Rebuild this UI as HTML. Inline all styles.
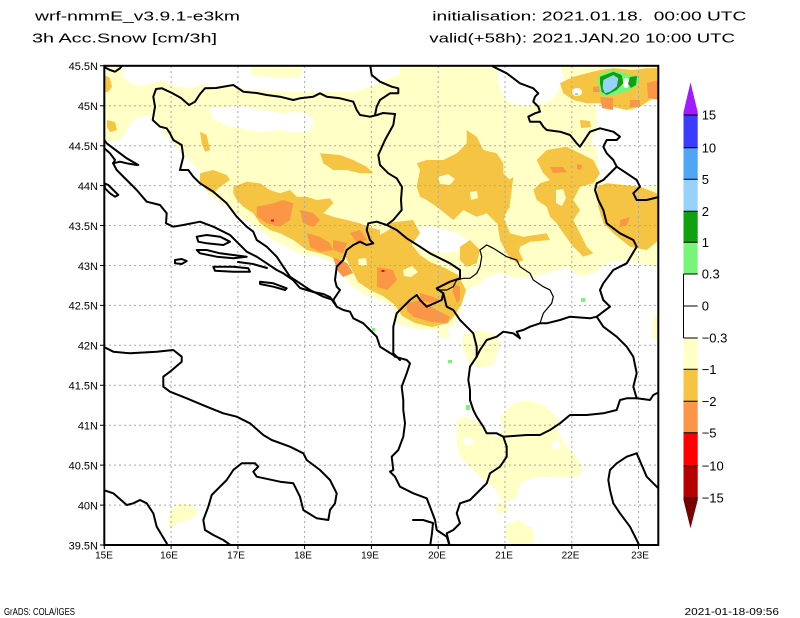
<!DOCTYPE html>
<html><head><meta charset="utf-8">
<style>
html,body{margin:0;padding:0;background:#fff;}
svg{display:block;}
text{font-family:"Liberation Sans",Arial,sans-serif;fill:#000;}
</style></head>
<body>
<svg width="800" height="618" viewBox="0 0 800 618" xmlns="http://www.w3.org/2000/svg">
<rect width="800" height="618" fill="#fff"/>
<defs><clipPath id="c"><rect x="104.3" y="65.8" width="554" height="479.2"/></clipPath></defs>
<g clip-path="url(#c)">
 <polygon fill="#ffffc6" points="104,66 658.5,66 658.5,267 637,263 623,260 607,263 593,273 580,277 567,267 547,273 533,277 513,277 500,273 487,277 480,283 467,290 463,300 460,313 453,327 440,330 427,330 407,327 397,323 393,307 380,300 363,294 350,285 343,272 333,262 317,256 300,254 287,247 273,240 260,230 240,217 227,207 207,193 200,170 192,163 183,155 175,145 165,135 158,122 150,115 135,118 128,128 120,140 104,142"/>
 <g fill="#fff">
  <polygon points="122,66 250,66 252,76 300,78 303,66 400,66 400,75 385,80 372,86 360,90 345,92 330,92 300,92 275,91 255,90 240,88 220,88 205,84 190,88 175,86 162,80 152,83 140,86 128,82 123,76"/>
  <polygon points="497,66 560,66 564,78 556,95 545,103 520,106 505,100 498,82"/>
  <polygon points="596,104 615,108 632,111 645,104 658.5,98 658.5,186 640,187 622,184 605,183 597,175 597,150 591,140 597,125"/>
  <polygon points="210,108 240,106 265,110 280,113 300,112 313,118 312,130 295,133 280,130 260,132 240,128 225,125 212,118"/>
  <polygon points="410,228 430,226 455,232 468,240 462,250 445,253 425,250 412,242"/>
 </g>
 <g fill="#ffffc6">
  <polygon points="456.7,420 466.7,416.7 480,423.3 486.7,433.3 496.7,436.7 503,430 500,416.7 513.3,403.3 526.7,400 543.3,405 556.7,416.7 557,427 560,436.7 566.7,446.7 576.7,456.7 583.3,470 576.7,476.7 556.7,476.7 536.7,476.7 520,483.3 516.7,496.7 503.3,503.3 496.7,490 480,476.7 470,466.7 460,456.7 456.7,443.3"/>
  <polygon points="506.7,523.3 520,520 533.3,530 533.3,546 510,546 505,535"/>
  <polygon points="496,503 507,503 508,512 497,513"/>
  <polygon points="170,510 180,503.3 193.3,505 196.7,513.3 190,520 176.7,523.3 170,530 168,520"/>
  <polygon points="653,317 659,313 659,342 652,338"/>
  <polygon points="463,334 480,330 497,335 500,345 493,365 480,368 467,360 462,345"/>
  <polygon points="437,327 447,327 450,337 440,338"/>
 </g>
 <g fill="#fff">
  <ellipse cx="468" cy="441" rx="5" ry="4"/>
  <ellipse cx="556" cy="445" rx="4" ry="5"/>
 </g>
 <g fill="#f5c443">
  <polygon points="233.3,186.7 246.7,181.7 260,183.3 270,190 280,193.3 290,190 296.7,196.7 306.7,196.7 316.7,200 330,198.3 333.3,203.3 323.3,213.3 333.3,216.7 346.7,220 360,223.3 366.7,226.7 380,230 380,246.7 366.7,250 353.3,246.7 346.7,256.7 340,260 330,256.7 320,253.3 306.7,250 293.3,240 280,233.3 270,230 260,223.3 253.3,213.3 243.3,206.7 236.7,200 233.3,193.3"/>
  <polygon points="200,173.3 213.3,170 226.7,175 230,180 220,186.7 213.3,193.3 206.7,190 200,183.3"/>
  <polygon points="200,131.7 206.7,135 210,150 205,151.7 201.7,143.3"/>
  <polygon points="320,153.3 340,155 353.3,160 366.7,166.7 373.3,173.3 360,173.3 346.7,170 333.3,170 323.3,163.3"/>
  <polygon points="104,75 110,78 112,87 108,92 104,92"/>
  <polygon points="107,120 115,122 117,130 110,132 107,127"/>
  <polygon points="345,245 360,237 378,236 392,228 402,233 412,245 420,255 430,262 445,268 458,275 466,290 462,303 455,315 448,323 432,327 415,323 402,316 395,305 383,296 370,290 358,282 352,270 346,258"/>
  <polygon points="387,223 413,220 420,233 410,247 397,240"/>
  <polygon points="466.7,130 476.7,136.7 483.3,150 496.7,153.3 503.3,163.3 503.3,173.3 510,180 503.3,193.3 510,206.7 503.3,216.7 496.7,223.3 486.7,213.3 476.7,216.7 463.3,210 453.3,220 436.7,206.7 426.7,200 420,196.7 416.7,186.7 420,170 416.7,163.3 426.7,160 443.3,160 456.7,153.3 466.7,143.3"/>
  <polygon points="503.3,216.7 510,233.3 523.3,236.7 546.7,233.3 550,240 530,241.7 520,246.7 516.7,260 510,260 506.7,246.7 500,236.7"/>
  <polygon points="460,246.7 470,240 480,250 476.7,263.3 466.7,266.7 460,260"/>
  <polygon points="536.7,160 546.7,150 566.7,146.7 580,153.3 593.3,160 600,173.3 593.3,183.3 580,186.7 573.3,200 580,210 573.3,220 580,233.3 586.7,246.7 593.3,253.3 583.3,256.7 573.3,246.7 563.3,233.3 556.7,223.3 550,216.7 546.7,206.7 536.7,200 533.3,190 540,183.3 550,180 543.3,173.3 540,166.7"/>
  <polygon points="500,186.7 513.3,176.7 510,203.3 503.3,220 506.7,233.3 516.7,246.7 523.3,260 516.7,263.3 506.7,253.3 500,240 496.7,220 493.3,206.7"/>
  <polygon points="596.7,186.7 606.7,183.3 623.3,185 640,186.7 656.7,193.3 659,200 659,240 646.7,250 630,246.7 613.3,233.3 603.3,223.3 598.3,206.7"/>
  <polygon points="560,83.3 573.3,76.7 586.7,73.3 600,70 613.3,68.3 633.3,70 646.7,68.3 659,68 659,93 650,100 640,106.7 626.7,110 613.3,106.7 600,103.3 586.7,103.3 573.3,100 563.3,93.3"/>
  <polygon points="580,120 590,121 591,127 581,128"/>
 </g>
 <g fill="#ffffc6">
  <polygon points="438,177 448,174 455,179 450,185 440,184"/>
  <polygon points="470,192 477,191 478,198 471,200"/>
  <polygon points="556,190 563,189 566,198 562,206 556,203"/>
  <polygon points="514,178 521,177 522,182 515,183"/>
  <polygon points="403,270 412,266 418,272 411,277 404,276"/>
  <polygon points="358,259 366,258 367,265 359,266"/>
 </g>
 <ellipse cx="577" cy="92" rx="5" ry="4" fill="#fff"/>
 <g fill="#fa9646">
  <polygon points="256.7,206.7 273.3,203.3 283.3,200 293.3,203.3 290,220 280,226.7 266.7,223.3 256.7,216.7"/>
  <polygon points="300,210 313,213 320,220 313,227 303,223"/>
  <polygon points="307,233 320,237 330,243 333,250 320,252 310,247"/>
  <polygon points="333,257 347,263 353,273 343,277 337,270"/>
  <polygon points="350,233 360,230 367,240 357,243"/>
  <polygon points="333,240 347,243 343,253 333,250"/>
  <polygon points="377,267 393,270 397,280 387,290 377,287"/>
  <polygon points="406.7,303.3 420,300 436.7,310 450,316.7 446.7,323.3 430,321.7 413.3,316.7 406.7,310"/>
  <polygon points="420,293 433,297 440,300 430,303 420,300"/>
  <polygon points="453,283 460,287 460,300 457,303 453,293"/>
  <polygon points="550,167 563,167 567,172 553,173"/>
  <polygon points="577,164 582,165 581,170 577,169"/>
  <polygon points="620,220 630,217 627,225 620,227"/>
  <polygon points="593,87 600,86 600,92 593,92"/>
  <polygon points="600,97 613,98 613,110 602,108"/>
  <polygon points="630,100 640,100 640,107 630,107"/>
  <polygon points="647,83 659,80 659,100 648,98"/>
 </g>
 <g fill="#ff0000">
  <rect x="271" y="219.5" width="3" height="2"/>
  <rect x="381.5" y="270" width="3" height="2"/>
 </g>
 <polygon fill="#78f578" points="598.3,75 610,70 620,71.7 630,75 640,75 638.3,83.3 633.3,88.3 626.7,91.7 620,93.3 613.3,95 605,96.7 600,93.3 598.3,85"/>
 <ellipse cx="626" cy="83" rx="3.5" ry="5" fill="#fff"/>
 <polygon fill="#10a010" points="600,76.7 613.3,71.7 621.7,75 623.3,83.3 616.7,90 606.7,95 601.7,91.7 600,83.3"/>
 <polygon fill="#10a010" points="630,77 637,76 636,85 631,88 628,84"/>
 <polygon fill="#96d2fa" points="603.3,80 613.3,75 618.3,78.3 616.7,86.7 610,91.7 605,93.3 602.7,88.3"/>
 <g fill="#78f578">
  <rect x="372" y="328" width="3" height="3"/>
  <rect x="448" y="360" width="4" height="3"/>
  <rect x="466" y="405" width="4" height="5"/>
  <rect x="581" y="298" width="4" height="4"/>
  <rect x="575" y="93" width="3" height="2"/>
 </g>
 <g stroke="#a8a8a8" stroke-width="1" stroke-dasharray="2,3" fill="none">
  <path d="M171.1,66V545M237.9,66V545M304.6,66V545M371.4,66V545M438.2,66V545M505,66V545M571.8,66V545M638.5,66V545"/>
  <path d="M104,105.7H658M104,145.7H658M104,185.6H658M104,225.5H658M104,265.5H658M104,305.4H658M104,345.3H658M104,385.3H658M104,425.2H658M104,465.1H658M104,505.1H658"/>
 </g>
 <g stroke="#000" stroke-width="2" fill="none" stroke-linejoin="round" stroke-linecap="round">
  <polyline points="395,114 383,113 377,115 370,116.7 360,115 356.7,110 353.3,101.7 340,98.3 326.7,96.7 320,93.3 313.3,96.7 300,98.3 293.3,100 280,96.7 266.7,95 256.7,93 243.3,91.7 233.3,85 216,88 205,88.3 200,94 195,101.7 189,105 181,98 172,93 162,88.3 156,89 153.3,96.7 155,106.7 152.7,120 160,126.7 166.7,128.3 170,133.3 173.3,140 181.7,145 183.3,156.7 180,170 188.3,170 193.3,176.7 200,183.3 213.3,191.7 226.7,203.3 236.7,216.7 246.7,226.7 253.3,231.7 256.7,240 266.7,246.7 276.7,256.7 283.3,266.7 290,276.7 300,283.3 310,290 323.3,296.7 333.3,300"/>
  <polyline points="395,114 393.3,125 385,140 378.3,155 380,165 388.3,173.3 396.7,178.3 402,187 401,200 401.7,210 393.3,220 386.7,225 376.7,221.7 368.3,223.3 366.7,230 370,240 373.3,243.3 366.7,245 360,241.7 353.3,245 346.7,250 343.3,260 336.7,266.7 335,280 336.7,286.7 340,290 333.3,300 336.7,306.7"/>
  <polyline points="386.7,225 396.7,230 406.7,238.3 420,246.7 430,253.3 440,258.3 450,263.3 460,270 460,278.3 450,281.7 440,286.7 436.7,288.3 443.3,293.3 441.7,300 426.7,306.7 420,300 416.7,295 410,300 403.3,306.7 396.7,313.3 393.3,326.7 393.3,340 393.3,353.3 400,360"/>
  <polyline points="113,163 116.7,170 126.7,180 136.7,190 146.7,201.7 160,205 166.7,213.3 166,223.3 173.3,226.7 183.3,225 200,221.7 213.3,226.7 230,235 236.7,241.7 246.7,251.7 256.7,256.7 266.7,263.3 276.7,270 283.3,273.3 293,280 300,288 313.3,292 323.3,294 330,297 336.7,306.7 343.3,310 350,311.7 353.3,318.3 363.3,323.3 370,330 376.7,336.7 380,346.7 393.3,355 395,356.7 406.7,360 410,363.3 406.7,373.3 401.7,386.7 403.3,400 403.3,410 405,423.3 403.3,436.7 398.3,450 391.7,456.7 393.3,470 390,471.7 395,476.7 400,486.7 413.3,493.3 426.7,498.3 430,506.7 435,520 436.7,530 446.7,536.7 450,547"/>
  <polyline points="104.3,140 106.7,143.3 113.3,148.3 120,153.3 126.7,158.3 138.3,165"/>
  <polyline points="104.3,148.3 110,153.3 115,160 113.3,163.3 120,161.7 126.7,163.3 136.7,165"/>
  <polygon points="104.3,183.3 108.3,185 113.3,190 118.3,195 115,196.7 110,193.3 105,188.3"/>
  <polygon points="196.7,236.7 206.7,235 220,236.7 230,241.7 223.3,245 206.7,243.3 198.3,241.7"/>
  <polygon points="196.7,250 206.7,250 220,253.3 233.3,255 246.7,256.7 233.3,258.3 216.7,256.7 200,253.3"/>
  <polygon points="175,260 181.7,259 186.7,261 181.7,264 175,263.3"/>
  <polygon points="213.3,266.7 233.3,266.7 248.3,268.3 250,271.7 233.3,271.7 215,270.7"/>
  <polygon points="260,281.7 273.3,283.3 286.7,288.3 285,290 273.3,286.7 260,284"/>
  <polyline points="238,262 253,264 267,268"/>
  <polyline points="103.3,346.7 113.3,351.7 130,353.3 156.7,351.7 173.3,350 181.7,356.7 181.7,361.7 170,371.7 163.3,376.7 163.3,386.7 170,391.7 186.7,398.3 206.7,406.7 223.3,413.3 236.7,416.7 250,423.3 263.3,435 271.7,440 290,446.7 303.3,453.3 306.7,460 320,470 330,480 336.7,493.3 335,503.3 330,510 328.3,520 316.7,518.3 303.3,510 300,496.7 293.3,483.3 280,481.7 256.7,476.7 253.3,471.7 258.3,466.7 255,463.3 241.7,463.3 233.3,470 226.7,480 220,486.7 211.7,495 208.3,506.7 203.3,520 205,530 213.3,535 223.3,540 233.3,547"/>
  <polyline points="103.3,490 113.3,493.3 126.7,505 133.3,503.3 140,500 146.7,503.3 153.3,513.3 156.7,526.7 161.7,535 166.7,543.3 168,547"/>
  <polyline points="443.3,293.3 446.7,306.7 453.3,310 460,320 466.7,326.7 473.3,333.3 476.7,346.7 476.7,356.7"/>
  <polyline points="476.7,356.7 480,350 486.7,340 496.7,336.7 503.3,331.7 513.3,333.3 520,338.3 516.7,331.7 523.3,330 530,326.7 540,323.3 546.7,323.3 560,320 570,316.7 590,318.3 596.7,316.7"/>
  <polyline points="476.7,356.7 470,366.7 468.3,380 470,390 470,400 473.3,410 476.7,416.7 483.3,426.7 486.7,433.3 496.7,433.3 503.3,436.7 506.7,446.7 506.7,456.7 500,466.7 490,473.3 486.7,483.3 480,490 470,500 460,503.3 456.7,513.3 460,523.3 453.3,530 446.7,533.3 450,547"/>
  <polyline points="503.3,436.7 526.7,435 540,435 550,430 560,423.3 570,415 586.7,415 603.3,413.3 616.7,410 620,400 626.7,398.3 636.7,398.3 650,400 653.3,395 660,391.7"/>
  <polyline points="636.7,398.3 633.3,386.7 636.7,373.3 633.3,356.7 626.7,346.7 616.7,336.7 603.3,326.7 596.7,316.7"/>
  <polyline points="596.7,316.7 610,306.7 603.3,300 600,290 603.3,283.3 613.3,270 626.7,263.3 636.7,246.7 633.3,240 620,233.3 606.7,223.3 603.3,210 598.3,200 595,190 596.7,183.3 603.3,180 613.3,170 616.7,166.7"/>
  <polyline points="616.7,166.7 626.7,173.3 636.7,180 640,186.7 633.3,193.3 636.7,200 646.7,200 660,196.7"/>
  <polyline points="616.7,166.7 613.3,160 606.7,153.3 603.3,146.7 606.7,140 616.7,140 620,136.7 613.3,131.7 600,128.3 590,131.7 580,146.7 576.7,143.3 570,135 560,131.7 546.7,130 543.3,126.7 540,121.7 530,121.7 528.3,116.7 535,113.3 540,111.7 538.3,106.7 533.3,101.7 535,96.7 538.3,93.3 533.3,88.3 520,83.3 506.7,73.3 493.3,66.7 490,64"/>
  <polyline points="370,64 371.7,75 380,81.7 391.7,86.7 398.3,88.3 398.3,93.3 390,93.3 380,100 376.7,106.7 375,115"/>
  <polyline points="104,67 110,70 115,71.7 120,68.3 123.3,64"/>
  <polyline points="636.7,453.3 626.7,456.7 616.7,463.3 610,470 608.3,480 610,490 613.3,503.3 620,513.3 630,526.7 636.7,540 640,547"/>
  <polyline points="636.7,453.3 646.7,476.7 656.7,486.7 660,490"/>
  <polyline points="413,520 423,520 433,523 432,533 430,547"/>
 </g>
 <polyline stroke="#000" stroke-width="1.2" fill="none" points="436.7,290 446.7,290 453.3,286.7 456.7,280 463.3,278.3 470,278.3 476.7,273.3 480,266.7 481.7,256.7 480,250 486.7,245 493.3,248.3 506.7,256.7 516.7,260 520,266.7 530,273.3 533.3,280 543.3,286.7 550,290 553.3,296.7 551.7,303.3 543.3,313.3 540,323.3"/>
</g>
<rect x="104.3" y="65.8" width="554" height="479.2" fill="none" stroke="#000" stroke-width="2"/>
<g stroke="#000" stroke-width="1">
 <path d="M100,65.8H104M100,105.7H104M100,145.7H104M100,185.6H104M100,225.5H104M100,265.5H104M100,305.4H104M100,345.3H104M100,385.3H104M100,425.2H104M100,465.1H104M100,505.1H104M100,545H104"/>
 <path d="M104.3,545V549M171.1,545V549M237.9,545V549M304.6,545V549M371.4,545V549M438.2,545V549M505,545V549M571.8,545V549M638.5,545V549"/>
</g>
<g font-size="11" text-anchor="end">
 <text x="98" y="70">45.5N</text>
 <text x="98" y="110">45N</text>
 <text x="98" y="150">44.5N</text>
 <text x="98" y="190">44N</text>
 <text x="98" y="229.8">43.5N</text>
 <text x="98" y="269.8">43N</text>
 <text x="98" y="309.7">42.5N</text>
 <text x="98" y="349.6">42N</text>
 <text x="98" y="389.6">41.5N</text>
 <text x="98" y="429.5">41N</text>
 <text x="98" y="469.4">40.5N</text>
 <text x="98" y="509.4">40N</text>
 <text x="98" y="549.3">39.5N</text>
</g>
<g font-size="10" text-anchor="middle">
 <text x="104" y="558.5">15E</text>
 <text x="169" y="558.5">16E</text>
 <text x="236" y="558.5">17E</text>
 <text x="303" y="558.5">18E</text>
 <text x="370" y="558.5">19E</text>
 <text x="437" y="558.5">20E</text>
 <text x="504" y="558.5">21E</text>
 <text x="570.5" y="558.5">22E</text>
 <text x="640" y="558.5">23E</text>
</g>
<polygon fill="#a01cff" points="690.5,82.5 697.7,112 697.7,115 683.5,115 683.5,112"/>
<rect x="683.5" y="115" width="14.2" height="32.7" fill="#3c3cff"/>
<rect x="683.5" y="147.7" width="14.2" height="31.6" fill="#50a5f5"/>
<rect x="683.5" y="179.3" width="14.2" height="32" fill="#96d2fa"/>
<rect x="683.5" y="211.3" width="14.2" height="31" fill="#10a010"/>
<rect x="683.5" y="242.3" width="14.2" height="31.7" fill="#78f578"/>
<rect x="683.5" y="338" width="14.2" height="31.3" fill="#ffffc6"/>
<rect x="683.5" y="369.3" width="14.2" height="32" fill="#f5c443"/>
<rect x="683.5" y="401.3" width="14.2" height="31.4" fill="#fa9646"/>
<rect x="683.5" y="432.7" width="14.2" height="33" fill="#ff0000"/>
<rect x="683.5" y="465.7" width="14.2" height="32" fill="#b40000"/>
<polygon fill="#780000" points="683.5,497.7 697.7,497.7 697.7,500 690.5,528.3 683.5,500"/>
<g stroke="#000" stroke-width="1">
 <path d="M683.5,115H697.7M683.5,147.7H697.7M683.5,179.3H697.7M683.5,211.3H697.7M683.5,242.3H697.7M683.5,274H697.7M683.5,306H697.7M683.5,338H697.7M683.5,369.3H697.7M683.5,401.3H697.7M683.5,432.7H697.7M683.5,465.7H697.7M683.5,497.7H697.7"/>
 <path d="M683.5,274V338"/>
</g>
<g font-size="13">
 <text x="701.7" y="119.7">15</text>
 <text x="701.7" y="152.4">10</text>
 <text x="701.7" y="184">5</text>
 <text x="701.7" y="216">2</text>
 <text x="701.7" y="247">1</text>
 <text x="701.7" y="278.7">0.3</text>
 <text x="701.7" y="310.7">0</text>
 <text x="701.7" y="342.7">−0.3</text>
 <text x="701.7" y="374">−1</text>
 <text x="701.7" y="406">−2</text>
 <text x="701.7" y="437.4">−5</text>
 <text x="701.7" y="470.4">−10</text>
 <text x="701.7" y="502.4">−15</text>
</g>
<text x="35" y="20.5" font-size="13" textLength="205" lengthAdjust="spacingAndGlyphs">wrf-nmmE_v3.9.1-e3km</text>
<text x="32" y="42.7" font-size="13" textLength="185" lengthAdjust="spacingAndGlyphs">3h Acc.Snow [cm/3h]</text>
<text x="432.3" y="20.5" font-size="13" textLength="314" lengthAdjust="spacingAndGlyphs" xml:space="preserve" style="white-space:pre">initialisation: 2021.01.18.  00:00 UTC</text>
<text x="429.3" y="42.7" font-size="13" textLength="305.7" lengthAdjust="spacingAndGlyphs">valid(+58h): 2021.JAN.20 10:00 UTC</text>
<text x="4" y="615" font-size="10" textLength="71" lengthAdjust="spacingAndGlyphs">GrADS: COLA/IGES</text>
<text x="684.5" y="615" font-size="10" textLength="94.5" lengthAdjust="spacingAndGlyphs">2021-01-18-09:56</text>
</svg>
</body></html>
